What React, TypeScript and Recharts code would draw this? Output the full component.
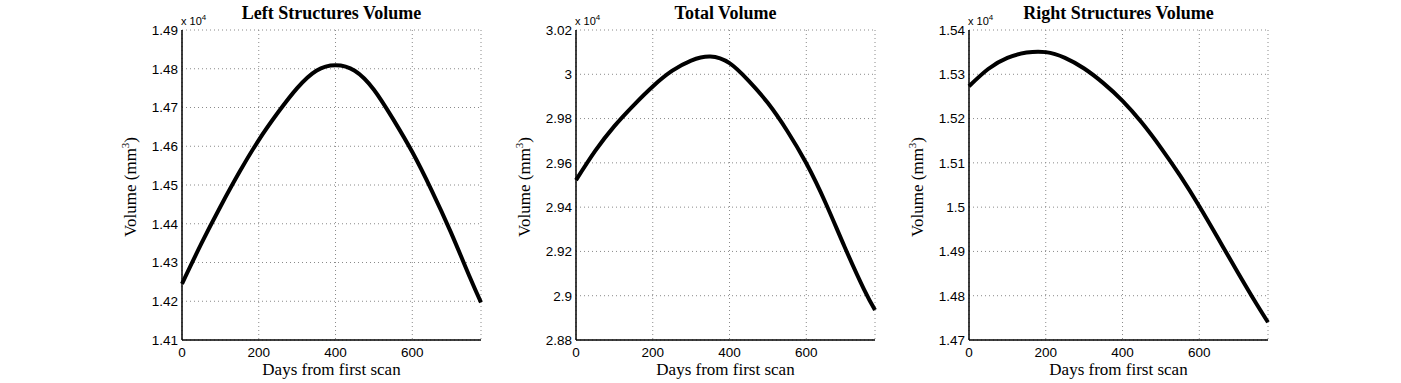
import React from "react";
import { LineChart, Line, XAxis, YAxis, CartesianGrid } from "recharts";

// days since first scan (shared by all three panels)
const days = [0, 50, 100, 150, 200, 250, 300, 350, 400, 450, 500, 550, 600, 650, 700, 750, 779];

// volumes in mm^3
const leftVolume = [
  14245, 14348, 14444, 14534, 14616, 14687, 14750, 14795, 14809, 14795, 14746, 14670, 14585, 14487,
  14379, 14262, 14197
];
const totalVolume = [
  29522, 29654, 29766, 29860, 29945, 30015, 30062, 30080, 30050, 29970, 29870, 29745, 29598, 29420,
  29220, 29030, 28935
];
const rightVolume = [
  15273, 15312, 15337, 15349, 15350, 15337, 15313, 15280, 15240, 15191, 15134, 15071, 15002, 14928,
  14853, 14780, 14740
];

const dayTicks = [0, 200, 400, 600];
const leftTicks = [14100, 14200, 14300, 14400, 14500, 14600, 14700, 14800, 14900];
const totalTicks = [28800, 29000, 29200, 29400, 29600, 29800, 30000, 30200];
const rightTicks = [14700, 14800, 14900, 15000, 15100, 15200, 15300, 15400];

const DAY_MAX = 779;

const SANS = '"Liberation Sans", Helvetica, Arial, sans-serif';
const SERIF = '"Liberation Serif", "Times New Roman", serif';

const PLOT_W = 299;
const PLOT_H = 310;
const PLOT_TOP = 30;
const AXIS_W = 82;

const fmtY = (v: number) => String(Number((v / 1e4).toFixed(2)));

type PanelProps = {
  title: string;
  values: number[];
  yTicks: number[];
  plotLeft: number;
};

const panels: PanelProps[] = [
  { title: "Left Structures Volume", values: leftVolume, yTicks: leftTicks, plotLeft: 182 },
  { title: "Total Volume", values: totalVolume, yTicks: totalTicks, plotLeft: 576 },
  { title: "Right Structures Volume", values: rightVolume, yTicks: rightTicks, plotLeft: 969 },
];

const Panel = ({ values, yTicks, plotLeft }: PanelProps) => {
  const data = days.map((d, i) => ({ day: d, vol: values[i] }));
  const yDomain = [yTicks[0], yTicks[yTicks.length - 1]];
  return (
    <div style={{ position: "absolute", left: plotLeft - AXIS_W, top: 0 }}>
      <LineChart
        width={AXIS_W + PLOT_W + 10}
        height={383}
        data={data}
        margin={{ top: PLOT_TOP, right: 10, left: 0, bottom: 0 }}
      >
        <CartesianGrid stroke="#8a8a8a" strokeDasharray="1 3" />
        <XAxis
          dataKey="day"
          type="number"
          domain={[0, DAY_MAX]}
          ticks={dayTicks}
          height={383 - PLOT_TOP - PLOT_H}
          tickSize={0}
          tickMargin={7}
          tick={{ fill: "#000", fontSize: 13.5, fontFamily: SANS }}
          axisLine={{ stroke: "#000", strokeWidth: 1.5 }}
        />
        <XAxis
          xAxisId="top"
          orientation="top"
          dataKey="day"
          type="number"
          domain={[0, DAY_MAX]}
          height={0}
          tick={false}
          tickLine={false}
          axisLine={{ stroke: "#222", strokeWidth: 1 }}
        />
        <YAxis
          type="number"
          domain={yDomain}
          ticks={yTicks}
          width={AXIS_W}
          tickSize={0}
          tickMargin={4}
          tickFormatter={fmtY}
          tick={{ fill: "#000", fontSize: 13.5, fontFamily: SANS }}
          axisLine={{ stroke: "#000", strokeWidth: 1.5 }}
          interval={0}
        />
        <YAxis
          yAxisId="right"
          orientation="right"
          type="number"
          domain={yDomain}
          width={0}
          tick={false}
          tickLine={false}
          axisLine={{ stroke: "#222", strokeWidth: 1 }}
        />
        <Line
          type="natural"
          dataKey="vol"
          stroke="#000"
          strokeWidth={4}
          dot={false}
          isAnimationActive={false}
        />
      </LineChart>
    </div>
  );
};

const App = () => {
  return (
    <div
      style={{
        position: "absolute",
        left: 0,
        top: 0,
        width: 1401,
        height: 383,
        background: "#fff",
        overflow: "hidden",
      }}
    >
      {panels.map((p) => (
        <Panel key={p.title} {...p} />
      ))}
      <svg
        width={1401}
        height={383}
        style={{ position: "absolute", left: 0, top: 0, pointerEvents: "none" }}
      >
        {panels.map((p) => {
          const cx = p.plotLeft + PLOT_W / 2;
          const ly = PLOT_TOP + PLOT_H / 2 + 2;
          const lx = p.plotLeft - 46;
          return (
            <g key={p.title}>
              <text x={cx} y={19} textAnchor="middle" fontFamily={SERIF} fontWeight="bold" fontSize={18}>
                {p.title}
              </text>
              <text x={p.plotLeft - 1} y={25} fontFamily={SANS} fontSize={11}>
                x 10<tspan dy={-5} fontSize={8}>4</tspan>
              </text>
              <text x={cx} y={375} textAnchor="middle" fontFamily={SERIF} fontSize={17}>
                Days from first scan
              </text>
              <text
                x={lx}
                y={ly}
                textAnchor="middle"
                transform={`rotate(-90, ${lx}, ${ly})`}
                fontFamily={SERIF}
                fontSize={17}
              >
                Volume (mm<tspan dy={-7} fontSize={11}>3</tspan>
                <tspan dy={7}>)</tspan>
              </text>
            </g>
          );
        })}
      </svg>
    </div>
  );
};

export default App;
